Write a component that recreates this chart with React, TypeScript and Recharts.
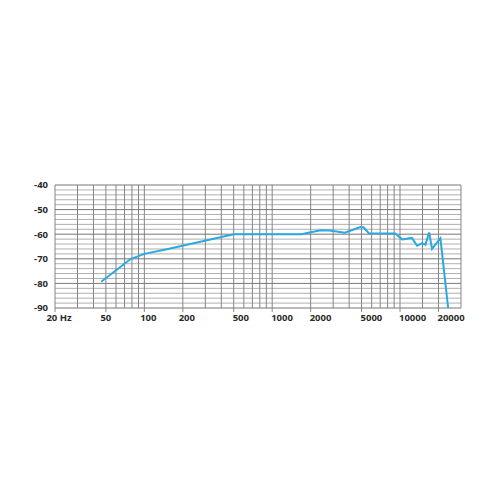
import { LineChart, Line, XAxis, YAxis, ReferenceLine } from 'recharts';

// frequency response
const freqs = [46, 78, 100, 150, 500, 1700, 2000, 2400, 2800, 3700, 4400, 4900, 5200, 5700, 9200, 10400, 12400, 13600, 14900, 15800, 16900, 17800, 20700, 23800];
const levels = [-79.3, -70.1, -68, -66.1, -60, -60, -59.2, -58.4, -58.5, -59.4, -58, -57.1, -57.3, -59.6, -59.7, -62.1, -61.5, -64.7, -63.6, -64.3, -59.3, -66, -61.7, -90];

const xTicks = [20, 50, 100, 200, 500, 1000, 2000, 5000, 10000, 20000];
const yTicks = [-40, -50, -60, -70, -80, -90];

const vGrid = [
    20, 30, 40, 50, 60, 70, 80, 90,
    100, 200, 300, 400, 500, 600, 700, 800, 900,
    1000, 2000, 3000, 4000, 5000, 6000, 7000, 8000, 9000,
    10000, 15000, 20000, 30000,
];
const hMinor = [-42, -44, -46, -48, -52, -54, -56, -58, -62, -64, -66, -68, -72, -74, -76, -78, -82, -84, -86, -88];
const hMajor = [-40, -50, -60, -70, -80, -90];

const data = freqs.map((f, i) => ({ f, db: levels[i] }));

const fontStyle = { fontFamily: '"Open Sans", sans-serif', fontSize: 9.5, fontWeight: 700 };

// ticks drawn by hand so the bold weight sticks; the big labels hang right of their line like the original
function XTick({ x, y, payload }: any) {
    const v = payload.value;
    const wide = v >= 500;
    const dx = wide ? -1 : v === 50 ? 0 : 4;
    return (
        <text x={x + dx} y={y} dy="0.75em" textAnchor={wide ? 'start' : 'middle'} fill="#2a2a2a" style={fontStyle}>
            {v === 20 ? '20 Hz' : String(v)}
        </text>
    );
}

function YTick({ x, y, payload }: any) {
    return (
        <text x={x} y={y} dy="0.35em" textAnchor="end" fill="#2a2a2a" style={fontStyle}>
            {payload.value}
        </text>
    );
}

export default function App() {
    return (
        <div style={{ width: 484, height: 484, background: '#fff' }}>
            <LineChart width={484} height={484} data={data} margin={{ top: 177, right: 31, bottom: 154, left: 0 }}>
                <XAxis
                    dataKey="f"
                    type="number"
                    scale="log"
                    domain={[20, 30000]}
                    allowDataOverflow
                    ticks={xTicks}
                    tick={<XTick />}
                    tickSize={4}
                    tickMargin={2}
                    tickLine={{ stroke: '#8a8a8a' }}
                    axisLine={false}
                    height={30}
                    interval={0}
                />
                <YAxis
                    type="number"
                    domain={[-90, -40]}
                    ticks={yTicks}
                    tick={<YTick />}
                    tickSize={5}
                    tickMargin={2}
                    tickLine={false}
                    axisLine={false}
                    width={47}
                    interval={0}
                />
                {hMinor.map((v) => (
                    <ReferenceLine key={`h${v}`} y={v} stroke="#b0b0b0" strokeWidth={1} />
                ))}
                {vGrid.map((v) => (
                    <ReferenceLine key={`v${v}`} x={v} stroke="#858585" strokeWidth={1} />
                ))}
                {hMajor.map((v) => (
                    <ReferenceLine key={`m${v}`} y={v} stroke="#777" strokeWidth={1} />
                ))}
                <Line
                    type="linear"
                    dataKey="db"
                    stroke="#29a9e1"
                    strokeWidth={2}
                    dot={false}
                    isAnimationActive={false}
                />
            </LineChart>
        </div>
    );
}
